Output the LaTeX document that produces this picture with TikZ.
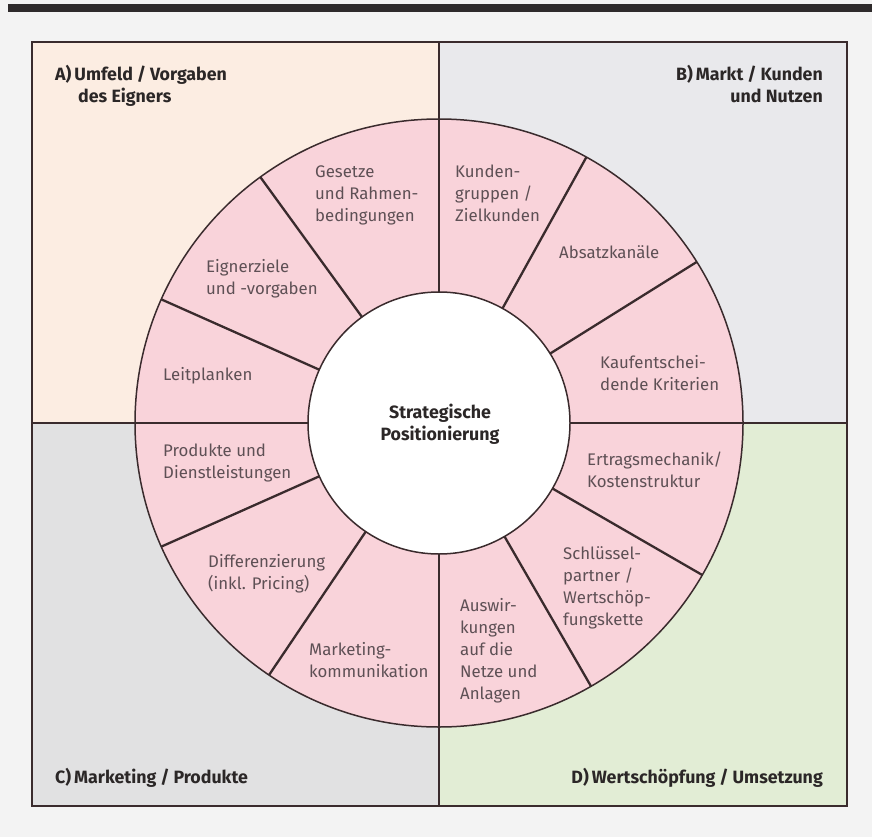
\documentclass[tikz,border=0pt]{standalone}
\usepackage{fontspec}
\setmainfont{Fira Sans}
\definecolor{pagebg}{HTML}{F3F3F3}
\definecolor{barcol}{HTML}{2E2A2B}
\definecolor{qA}{HTML}{FCEDE2}
\definecolor{qB}{HTML}{E9E9EC}
\definecolor{qC}{HTML}{E1E1E2}
\definecolor{qD}{HTML}{E2EDD5}
\definecolor{ringpink}{HTML}{F9D3DA}
\definecolor{linecol}{HTML}{3A2B2D}
\definecolor{labelcol}{HTML}{5E5055}
\definecolor{headcol}{HTML}{2B2727}
\tikzset{
  divline/.style={draw=linecol, line width=2.3pt},
  circline/.style={draw=linecol, line width=1.5pt},
  frameline/.style={draw=linecol, line width=1.7pt},
  seglabel/.style={anchor=base west, inner sep=0pt, align=left, text=labelcol,
    font=\fontsize{16.8pt}{22pt}\selectfont},
  headlabel/.style={inner sep=0pt, text=headcol,
    font=\bfseries\fontsize{17.8pt}{22pt}\selectfont},
}
\begin{document}
\begin{tikzpicture}[x=1pt,y=-1pt]
\useasboundingbox (0,0) rectangle (872,837);
\fill[pagebg] (0,0) rectangle (872,837);
\fill[barcol] (8,4) rectangle (872,12);
% quadrants
\fill[qA] (32,42) rectangle (439,423);
\fill[qB] (439,42) rectangle (847,423);
\fill[qC] (32,423) rectangle (439,806);
\fill[qD] (439,423) rectangle (847,806);
% ring
\fill[ringpink] (439,423) circle[radius=304pt];
\fill[white] (439,423) circle[radius=131pt];
% dividers inside ring
\foreach \a in {126,156,61,32,204,236,300,330}{
  \draw[divline] ({439+131*cos(\a)},{423-131*sin(\a)}) -- ({439+304*cos(\a)},{423-304*sin(\a)});
}
% axis lines (quadrant borders and ring dividers)
\draw[divline] (439,42) -- (439,292);
\draw[divline] (439,554) -- (439,806);
\draw[divline] (32,423) -- (308,423);
\draw[divline] (570,423) -- (847,423);
\draw[circline] (439,423) circle[radius=304pt];
\draw[circline] (439,423) circle[radius=131pt];
\draw[frameline] (32,42) rectangle (847,806);
% headings (base anchor = baseline of the last line)
\node[headlabel, anchor=base west, align=left] (hA) at (55,103) {A)\,Umfeld\hspace{0.22em}/\hspace{0.22em}Vorgaben\\\hspace*{23pt}des Eigners};
\node[headlabel, anchor=base east, align=right] (hB) at (823,103) {B)\,Markt\hspace{0.22em}/\hspace{0.22em}Kunden\\und Nutzen};
\node[headlabel, anchor=base west] (hC) at (55,783) {C)\,Marketing\hspace{0.22em}/\hspace{0.22em}Produkte};
\node[headlabel, anchor=base east] (hD) at (823,783) {D)\,Wertschöpfung\hspace{0.22em}/\hspace{0.22em}Umsetzung};
\node[headlabel, anchor=base, align=center] (center) at (440,440) {Strategische\\Positionierung};
% segment labels
\node[seglabel] (s1) at (315,222) {Gesetze\\und Rahmen-\\bedingungen};
\node[seglabel] (s2) at (206,294) {Eignerziele\\und -vorgaben};
\node[seglabel] (s3) at (163,380) {Leitplanken};
\node[seglabel] (s4) at (163,478) {Produkte und\\Dienstleistungen};
\node[seglabel] (s5) at (208,589) {Differenzierung\\(inkl. Pricing)};
\node[seglabel] (s6) at (309,677) {Marketing-\\kommunikation};
\node[seglabel] (s7) at (460,699) {Auswir-\\kungen\\auf die\\Netze und\\Anlagen};
\node[seglabel] (s8) at (563,625) {Schlüssel-\\partner /\\Wertschöp-\\fungskette};
\node[seglabel] (s9) at (587,487) {Ertragsmechanik/\\Kostenstruktur};
\node[seglabel] (s10) at (600,390) {Kaufentschei-\\dende Kriterien};
\node[seglabel] (s11) at (559,258) {Absatzkanäle};
\node[seglabel] (s12) at (455,222) {Kunden-\\gruppen /\\Zielkunden};
\end{tikzpicture}
\end{document}
